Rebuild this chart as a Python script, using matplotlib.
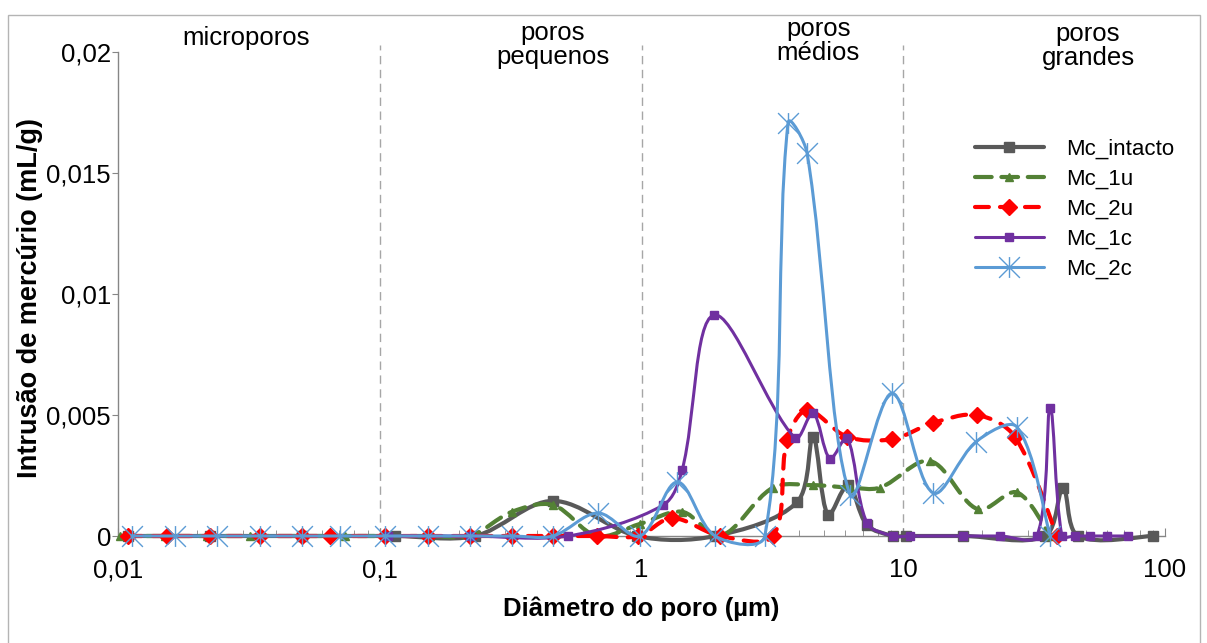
import matplotlib
matplotlib.use("Agg")
import matplotlib.pyplot as plt
import numpy as np
from matplotlib.path import Path
from matplotlib.patches import PathPatch, Rectangle
from matplotlib.lines import Line2D
from matplotlib.transforms import blended_transform_factory

plt.rcParams['font.family'] = ['Liberation Sans', 'DejaVu Sans']
plt.rcParams['lines.scale_dashes'] = False

# ---- data ----
labels = ['Mc_intacto', 'Mc_1u', 'Mc_2u', 'Mc_1c', 'Mc_2c']

x_intacto = [0.0109, 0.0225, 0.0505, 0.114, 0.231, 0.459, 0.961, 1.91, 3.93, 4.52,
             5.16, 6.15, 7.27, 9.14, 10.2, 16.9, 34.8, 40.8, 46.5, 90.0]
y_intacto = [0, 0, 0, 0, 0, 0.00145, 0, 0, 0.0014, 0.0041,
             0.00087, 0.0021, 0.00045, 0, 0, 0, 0, 0.0020, 0, 0]

x_1u = [0.0102, 0.0151, 0.0219, 0.0319, 0.0505, 0.0737, 0.1075, 0.1556, 0.221, 0.320,
        0.459, 0.676, 0.987, 1.43, 2.0, 3.18, 4.52, 6.26, 8.15, 12.65,
        19.3, 27.2, 36.4]
y_1u = [0, 0, 0, 0, 0, 0, 0, 0, 0, 0.0010,
        0.00128, 0, 0.0005, 0.0010, 0, 0.0020, 0.0021, 0.0020, 0.0020, 0.0031,
        0.0011, 0.0018, 0]

x_2u = [0.0109, 0.0154, 0.0225, 0.0349, 0.0505, 0.0646, 0.1047, 0.153, 0.221, 0.320,
        0.459, 0.676, 0.970, 1.31, 2.0, 3.18, 3.60, 4.29, 6.10, 9.06,
        12.99, 19.1, 26.7, 38.7]
y_2u = [0, 0, 0, 0, 0, 0, 0, 0, 0, 0,
        0, 0, 0, 0.00074, 0, 0, 0.00397, 0.0052, 0.0041, 0.0040,
        0.00467, 0.0050, 0.0041, 0]

x_1c = [0.1075, 0.221, 0.524, 1.21, 1.43, 1.89, 3.86, 4.52, 5.25, 6.10,
        7.27, 9.14, 10.6, 16.9, 23.4, 32.4, 36.4, 40.4, 45.3, 51.7,
        60.0, 72.2]
y_1c = [0, 0, 0, 0.00128, 0.00273, 0.00913, 0.00405, 0.00508, 0.0032, 0.00405,
        0.00054, 0, 0, 0, 0, 0, 0.0053, 0, 0, 0,
        0, 0]

x_2c = [0.0113, 0.0165, 0.0239, 0.0349, 0.0505, 0.0705, 0.1047, 0.153, 0.221, 0.320,
        0.459, 0.682, 0.987, 1.37, 1.91, 2.96, 3.63, 4.29, 6.26, 9.06,
        12.99, 19.0, 27.2, 36.4]
y_2c = [0, 0, 0, 0, 0, 0, 0, 0, 0, 0,
        0, 0.00095, 0, 0.00223, 0, 0, 0.01707, 0.01583, 0.0017, 0.0059,
        0.00178, 0.0039, 0.0045, 0]

x_ticks = [0.01, 0.1, 1, 10, 100]
x_ticklabels = ['0,01', '0,1', '1', '10', '100']
y_ticks = [0, 0.005, 0.01, 0.015, 0.02]
y_ticklabels = ['0', '0,005', '0,01', '0,015', '0,02']

region_lines = [0.1, 1, 10]
region_names = ['microporos', 'poros\npequenos', 'poros\nmédios', 'poros\ngrandes']
region_x = [0.0308, 0.459, 4.73, 50.8]

# pixel scale of the plot area, used so the smoothing behaves like Excel's
PX_PER_DECADE = 261.75
PX_PER_UNIT_Y = 24200.0


def smooth_path(xs, ys):
    # Excel-like smoothed line: Bezier segments, tangent lengths weighted by chord length
    pts = np.column_stack([np.log10(xs) * PX_PER_DECADE,
                           np.asarray(ys, float) * PX_PER_UNIT_Y])
    n = len(pts)
    verts = [pts[0]]
    codes = [Path.MOVETO]
    for i in range(n - 1):
        p0 = pts[i - 1] if i > 0 else pts[i]
        p1, p2 = pts[i], pts[i + 1]
        p3 = pts[i + 2] if i + 2 < n else pts[i + 1]
        d1 = np.hypot(*(p1 - p0))
        d2 = np.hypot(*(p2 - p1))
        d3 = np.hypot(*(p3 - p2))
        f1 = d2 / (d1 + d2) if d1 + d2 > 0 else 0.5
        f2 = d2 / (d2 + d3) if d2 + d3 > 0 else 0.5
        if i == 0:
            f1 = 0.5
        if i + 2 >= n:
            f2 = 0.5
        verts += [p1 + (p2 - p0) * f1 / 3.0, p2 - (p3 - p1) * f2 / 3.0, p2]
        codes += [Path.CURVE4] * 3
    verts = np.array(verts)
    verts[:, 0] = 10 ** (verts[:, 0] / PX_PER_DECADE)
    verts[:, 1] = verts[:, 1] / PX_PER_UNIT_Y
    return Path(verts, codes)


star = Path([(-1, -1), (1, 1), (-1, 1), (1, -1), (0, -1), (0, 1)],
            [Path.MOVETO, Path.LINETO, Path.MOVETO, Path.LINETO, Path.MOVETO, Path.LINETO])

styles = [
    dict(x=x_intacto, y=y_intacto, color='#595959', lw=3.0, dash=None, marker='s', ms=7),
    dict(x=x_1u, y=y_1u, color='#538135', lw=3.0, dash=(0, (12, 7)), marker='^', ms=6),
    dict(x=x_2u, y=y_2u, color='#FF0000', lw=3.0, dash=(0, (10, 8)), marker='D', ms=8),
    dict(x=x_1c, y=y_1c, color='#7030A0', lw=2.2, dash=None, marker='s', ms=6),
    dict(x=x_2c, y=y_2c, color='#5B9BD5', lw=2.2, dash=None, marker=star, ms=15),
]

fig = plt.figure(figsize=(12.07, 6.43), dpi=100)
ax = fig.add_axes([118 / 1207, 1 - 536 / 643, (1165 - 118) / 1207, (536 - 52) / 643])
ax.set_xscale('log')
ax.set_xlim(0.01, 100)
ax.set_ylim(0, 0.02)

fig.patches.append(Rectangle((8 / 1207, -0.05), 1192 / 1207, 1.05 - 15 / 643,
                             transform=fig.transFigure, fill=False,
                             edgecolor='#B4B4B4', lw=1.0))

for xv in region_lines:
    ax.plot([xv, xv], [0, 0.0203], color='#A6A6A6', lw=1.0,
            dashes=(6, 4), clip_on=False, zorder=1)

handles = []
for k, s in enumerate(styles):
    z = 3 + k
    patch = PathPatch(smooth_path(s['x'], s['y']), fill=False, edgecolor=s['color'],
                      lw=s['lw'], zorder=z, clip_on=False, capstyle='round', joinstyle='round')
    if s['dash'] is not None:
        patch.set_linestyle(s['dash'])
    ax.add_patch(patch)
    star_like = s['marker'] is star
    ax.plot(s['x'], s['y'], linestyle='none', marker=s['marker'], ms=s['ms'],
            color=s['color'], mfc='none' if star_like else s['color'],
            mec=s['color'], mew=1.0, zorder=z + 0.5, clip_on=False)
    h = Line2D([], [], color=s['color'], lw=s['lw'], marker=s['marker'], ms=s['ms'],
               mfc='none' if star_like else s['color'], mec=s['color'], mew=1.0,
               solid_capstyle='round', dash_capstyle='round')
    if s['dash'] is not None:
        h.set_dashes(s['dash'][1])
    handles.append(h)

fig.legend(handles, labels, loc='upper left', bbox_to_anchor=(975 / 1207, 1 - 139 / 643),
           frameon=False, fontsize=16, handlelength=3.1, handletextpad=1.0,
           labelspacing=0.40, borderpad=0, borderaxespad=0, numpoints=1)

for sp in ['top', 'right']:
    ax.spines[sp].set_visible(False)
for sp in ['left', 'bottom']:
    ax.spines[sp].set_color('#868686')
    ax.spines[sp].set_linewidth(1.0)

ax.set_xticks(x_ticks)
ax.set_xticklabels(x_ticklabels)
ax.xaxis.set_minor_locator(matplotlib.ticker.LogLocator(base=10, subs=np.arange(2, 10)))
ax.xaxis.set_minor_formatter(matplotlib.ticker.NullFormatter())
ax.set_yticks(y_ticks)
ax.set_yticklabels(y_ticklabels)
ax.tick_params(axis='x', which='major', direction='in', length=6, color='#868686',
               labelsize=18.5, pad=16)
ax.tick_params(axis='x', which='minor', direction='in', length=4.5, color='#868686')
ax.tick_params(axis='y', direction='out', length=4, color='#868686', labelsize=18.5, pad=1)

ax.set_xlabel('Diâmetro do poro (µm)', fontsize=18.5, fontweight='bold', labelpad=10)
fig.text(30 / 1207, 1 - 298 / 643, 'Intrusão de mercúrio (mL/g)', rotation=90,
         ha='center', va='center', fontsize=19.5, fontweight='bold')

tr = blended_transform_factory(ax.transData, ax.transAxes)
region_y = [1.029, 1.0145, 1.0227, 1.0124]
for xv, yv, name in zip(region_x, region_y, region_names):
    ax.text(xv, yv, name, transform=tr, ha='center', va='center', fontsize=18.5,
            linespacing=1.0)

fig.savefig('out.png', dpi=100)
